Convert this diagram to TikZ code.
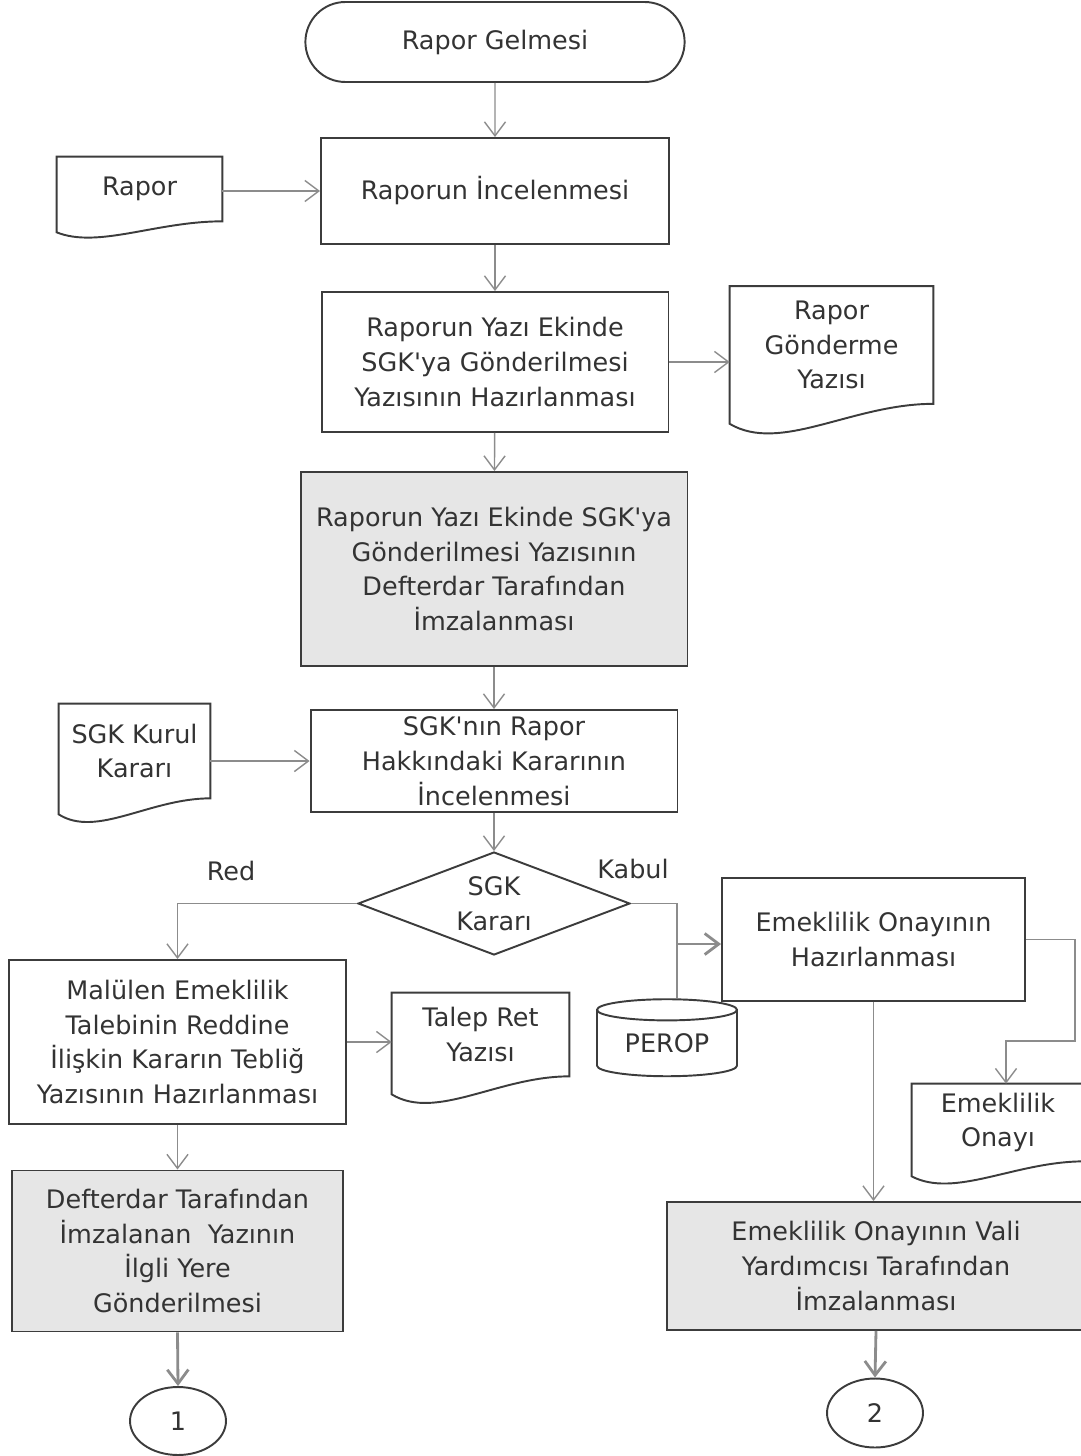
\documentclass[tikz,border=0pt]{standalone}
\usepackage{fontspec}
\setmainfont{DejaVu Sans}
\usepackage{tikz}
\usetikzlibrary{arrows.meta,calc,shapes.geometric,shapes.misc}
\definecolor{ink}{HTML}{333333}
\definecolor{edge}{HTML}{3C3C3C}
\definecolor{wire}{HTML}{8C8C8C}
\definecolor{shade}{HTML}{E6E6E6}

% document outline with wavy bottom, #2 = drop of the left corner
\newcommand{\docwave}[2]{%
\draw[edge line] (#1.south west) -- (#1.north west) -- (#1.north east) -- (#1.south east)
 .. controls ($(#1.south east)!0.4!(#1.south west)$) and ($(#1.south east)!0.75!(#1.south west)+(0,{2.5*#2})$) .. ($(#1.south west)+(0,#2)$) -- cycle;}

\begin{document}
\begin{tikzpicture}
[x=0.02cm,y=-0.02cm,>={Straight Barb[length=8pt,width=12pt]},
every node/.style={text=ink,align=center,font=\fontsize{14.5}{19.8}\selectfont},
edge line/.style={draw=edge,line width=1.1pt},
box/.style={edge line,rectangle,inner sep=0pt},
shaded/.style={box,fill=shade},
doc/.style={inner sep=0pt},
line/.style={draw=wire,line width=0.8pt,->},
heavy/.style={draw=wire,line width=1.6pt,->},
]
\useasboundingbox (0,0) rectangle (1081,1456);
\clip (0,0) rectangle (1081,1456);

% main column
\node (start) at (495,42)[edge line,rounded rectangle,minimum width=7.82cm,minimum height=1.6cm]{Rapor Gelmesi};
\node (review) at (495,191)[box,minimum width=6.96cm,minimum height=2.12cm]{Raporun İncelenmesi};
\node (prep) at (495,362)[box,minimum width=6.94cm,minimum height=2.8cm]{Raporun Yazı Ekinde\\SGK\textquotesingle ya Gönderilmesi\\Yazısının Hazırlanması};
\node (sign) at (494,569)[shaded,minimum width=7.74cm,minimum height=3.88cm]{Raporun Yazı Ekinde SGK\textquotesingle ya\\Gönderilmesi Yazısının\\Defterdar Tarafından\\İmzalanması};
\node (check) at (494,761)[box,minimum width=7.34cm,minimum height=2.04cm]{SGK\textquotesingle nın Rapor\\Hakkındaki Kararının\\İncelenmesi};
\node (decide) at (494,903.5)[edge line,diamond,aspect=2.64,inner sep=0pt,minimum width=5.44cm,minimum height=2.06cm]{SGK\\Kararı};
\node (red) at (231,871){Red};
\node (kabul) at (633,869){Kabul};

% documents
\node (rapor) at (139.5,189)[doc,minimum width=3.3cm,minimum height=1.28cm]{Rapor};
\node (letter) at (831.5,345)[doc,minimum width=4.06cm,minimum height=2.34cm]{Rapor\\Gönderme\\Yazısı};
\node (board) at (134.5,751)[doc,minimum width=3.02cm,minimum height=1.88cm]{SGK Kurul\\Kararı};
\node (retdoc) at (480.5,1034.5)[doc,minimum width=3.54cm,minimum height=1.66cm]{Talep Ret\\Yazısı};
\node (approval) at (998,1122.5)[doc,minimum width=3.44cm,minimum height=1.54cm]{Emeklilik\\Onayı};
\docwave{rapor}{11}
\docwave{letter}{20}
\docwave{board}{16}
\docwave{retdoc}{18}
\docwave{approval}{15}

% red branch
\node (refuse) at (177.5,1042)[box,minimum width=6.74cm,minimum height=3.28cm]{Malülen Emeklilik\\Talebinin Reddine\\İlişkin Kararın Tebliğ\\Yazısının Hazırlanması};
\node (send) at (177.5,1251)[shaded,minimum width=6.62cm,minimum height=3.22cm]{Defterdar Tarafından\\İmzalanan~ Yazının\\İlgli Yere\\Gönderilmesi};
\node (one) at (178,1421)[edge line,ellipse,minimum width=1.92cm,minimum height=1.36cm]{1};

% kabul branch
\node (accept) at (873.5,939.5)[box,minimum width=6.06cm,minimum height=2.46cm]{Emeklilik Onayının\\Hazırlanması};
\node (perop) at (667,1043.5)[edge line,cylinder,shape border rotate=90,aspect=0.25,inner sep=0pt,minimum width=2.8cm,minimum height=1.54cm]{PEROP};
\node (vali) at (876,1266)[shaded,minimum width=8.36cm,minimum height=2.56cm]{Emeklilik Onayının Vali\\Yardımcısı Tarafından\\İmzalanması};
\node (two) at (875,1413)[edge line,ellipse,minimum width=1.92cm,minimum height=1.38cm]{2};

\coordinate (kb) at (677,944);
\coordinate (rl1) at (1075,1041);
\coordinate (rl2) at (1006,1041);

\draw[line] (start)--(review);
\draw[line] (rapor.east|-review.west)--(review.west);
\draw[line] (review)--(prep);
\draw[line] (prep.east)--(prep.east-|letter.west);
\draw[line] (prep)--(sign);
\draw[line] (sign)--(check);
\draw[line] (board.east|-check.west)--(check.west);
\draw[line] (check)--(decide);
\draw[line] (decide.west)-|(refuse.north);
\draw[line] (refuse.east)--(refuse.east-|retdoc.west);
\draw[line] (refuse)--(send);
\draw[heavy] (send.south)--(one.north);
\draw[line,-] (decide.east)-|(kb);
\draw[heavy] (kb)--(kb-|accept.west);
\draw[line,-] (kb)--(kb|-perop.north);
\draw[line] (accept.east)-|(rl1)--(rl2)--(rl2|-approval.north);
\draw[line] (accept.south)--(accept.south|-vali.north);
\draw[heavy] (vali.south)--(two.north);

\end{tikzpicture}
\end{document}
